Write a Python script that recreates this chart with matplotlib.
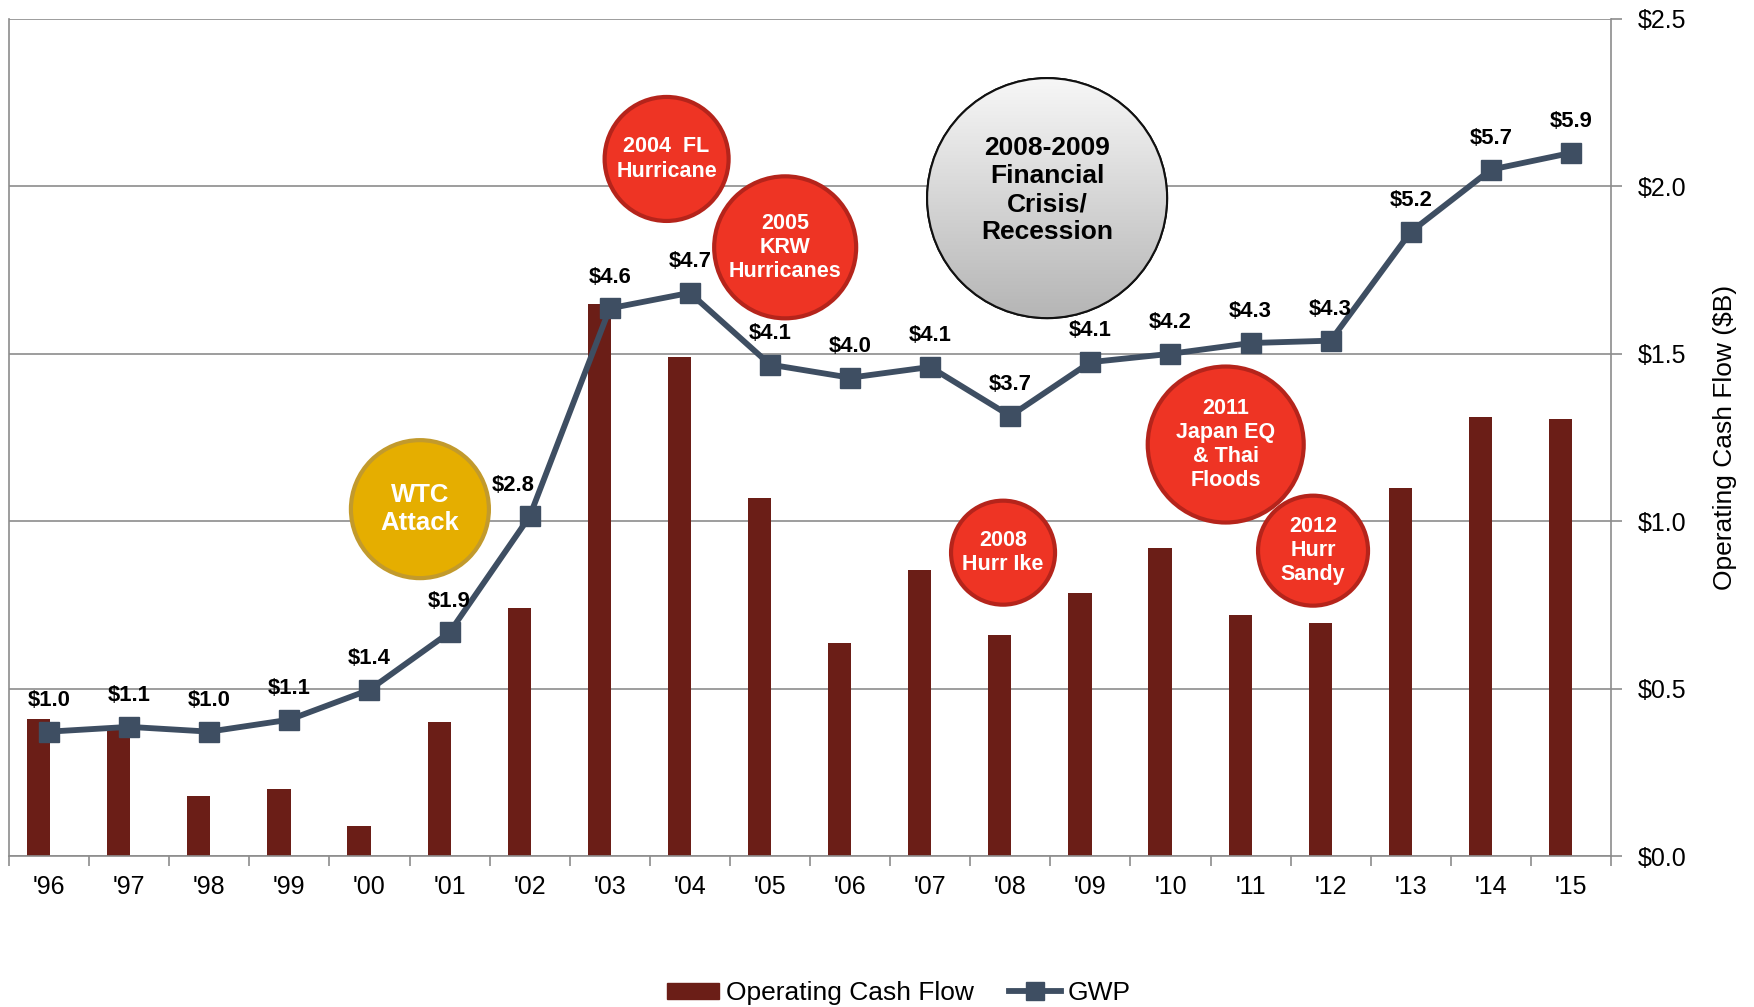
import numpy as np
import matplotlib
matplotlib.use("Agg")
import matplotlib.pyplot as plt
from matplotlib.patches import Ellipse, Patch
from matplotlib.lines import Line2D

plt.rcParams['font.family'] = ['Liberation Sans', 'DejaVu Sans']

years = ["'96", "'97", "'98", "'99", "'00", "'01", "'02", "'03", "'04", "'05",
         "'06", "'07", "'08", "'09", "'10", "'11", "'12", "'13", "'14", "'15"]
# operating cash flow, $B (right axis)
ocf = [0.41, 0.38, 0.18, 0.20, 0.09, 0.40, 0.74, 1.65, 1.49, 1.07,
       0.635, 0.855, 0.66, 0.785, 0.92, 0.72, 0.695, 1.10, 1.31, 1.305]
# gross written premium, $B (hidden axis)
gwp = [1.04, 1.08, 1.04, 1.14, 1.39, 1.87, 2.84, 4.58, 4.71, 4.11,
       4.00, 4.09, 3.68, 4.13, 4.20, 4.29, 4.31, 5.22, 5.74, 5.88]
yticks = [0.0, 0.5, 1.0, 1.5, 2.0, 2.5]

# event bubbles: text, x (category units), y (right axis units), radius px, style, font size
events = [
    ("WTC\nAttack", 4.63, 1.036, 69, 'gold', 18.5),
    ("2004  FL\nHurricane", 7.71, 2.082, 62, 'red', 15.5),
    ("2005\nKRW\nHurricanes", 9.19, 1.818, 71, 'red', 15.5),
    ("2008-2009\nFinancial\nCrisis/\nRecession", 12.46, 1.965, 120, 'grey', 19),
    ("2008\nHurr Ike", 11.91, 0.906, 52, 'red', 15.5),
    ("2011\nJapan EQ\n& Thai\nFloods", 14.69, 1.229, 78, 'red', 15.5),
    ("2012\nHurr\nSandy", 15.78, 0.912, 55, 'red', 15.5),
]
styles = {
    'red': ('#ee3424', '#b5241b', 'white'),
    'gold': ('#e5ae00', '#c29a2c', 'white'),
    'grey': ('#d6d6d6', '#111111', 'black'),
}

bar_color = '#6b1e17'
line_color = '#3e4e62'
grid_color = '#8c8c8c'

fig = plt.figure(figsize=(17.54, 10.07), dpi=100)
ax = fig.add_axes([9 / 1754, 151 / 1007, 1602 / 1754, 837 / 1007])
x = np.arange(len(years))

ax.bar(x - 0.13, ocf, width=0.29, color=bar_color, zorder=2)
ax.set_xlim(-0.5, len(years) - 0.5)
ax.set_ylim(0, 2.5)
ax.grid(axis='y', color=grid_color, lw=1.2, zorder=0)
ax.set_xticks(x)
ax.set_xticklabels(years, fontsize=18)
ax.set_xticks(np.arange(-0.5, len(years)), minor=True)
ax.tick_params(axis='x', which='major', length=0, pad=14)
ax.tick_params(axis='x', which='minor', length=7, width=1.2, color=grid_color)
for s in ['left', 'right', 'bottom']:
    ax.spines[s].set_color(grid_color)
    ax.spines[s].set_linewidth(1.2)
ax.spines['top'].set_visible(False)

ax2 = ax.twinx()
ax2.set_ylim(0, 7.0)
ax2.set_yticks([])
for s in ax2.spines.values():
    s.set_visible(False)

# right-hand axis for cash flow (set after twinx, which moves ticks left)
ax.yaxis.tick_right()
ax.yaxis.set_label_position('right')
ax.set_yticks(yticks)
ax.set_yticklabels([f"${v:.1f}" for v in yticks], fontsize=18)
ax.set_ylabel('Operating Cash Flow ($B)', fontsize=19, labelpad=19)
ax.tick_params(axis='y', length=8, width=1.2, color=grid_color, pad=11)

ax2.plot(x, gwp, color=line_color, lw=4.2, marker='s', markersize=14, zorder=3)
for i, v in enumerate(gwp):
    dx = -12 if years[i] == "'02" else 0
    ax2.annotate(f"${v:.1f}", (x[i], v), xytext=(dx, 22.5), textcoords='offset points',
                 ha='center', va='center', fontsize=15.8, fontweight='bold', zorder=4)

# pixels per data unit, for drawing round bubbles
p0 = ax.transData.transform((0, 0))
p1 = ax.transData.transform((1, 1))
sx, sy = (p1 - p0)
for txt, ex, ey, r, st, fs in events:
    fc, ec, tc = styles[st]
    e = Ellipse((ex, ey), 2 * r / sx, 2 * r / sy, transform=ax.transData,
                facecolor=fc, edgecolor=ec, lw=3 if st != 'grey' else 1.5, zorder=5)
    ax2.add_patch(e)
    ty = ey
    if st == 'grey':
        grad = np.linspace(1, 0, 256).reshape(-1, 1)
        im = ax2.imshow(grad, cmap=matplotlib.colors.LinearSegmentedColormap.from_list(
            'g', ['#b5b5b5', '#f7f7f7']), extent=(ex - r / sx, ex + r / sx, ey - r / sy, ey + r / sy),
            transform=ax.transData, aspect='auto', zorder=5.5, origin='upper')
        im.set_clip_path(e)
        ax2.add_patch(Ellipse((ex, ey), 2 * r / sx, 2 * r / sy, transform=ax.transData,
                              facecolor='none', edgecolor=ec, lw=1.5, zorder=6))
        ty = ey + 8 / sy
    ax2.text(ex, ty, txt, transform=ax.transData, ha='center', va='center',
             fontsize=fs, fontweight='bold', color=tc, linespacing=1.2, zorder=7)
ax2.set_xlim(-0.5, len(years) - 0.5)
ax2.set_ylim(0, 7.0)

handles = [Patch(color=bar_color, label='Operating Cash Flow'),
           Line2D([], [], color=line_color, lw=4.2, marker='s', markersize=13, label='GWP')]
fig.legend(handles=handles, loc='center', bbox_to_anchor=(0.5126, 0.014), ncol=2,
           frameon=False, fontsize=19, handlelength=1.95, handleheight=0.55,
           handletextpad=0.27, columnspacing=1.36)

fig.savefig('out.png', dpi=100)
